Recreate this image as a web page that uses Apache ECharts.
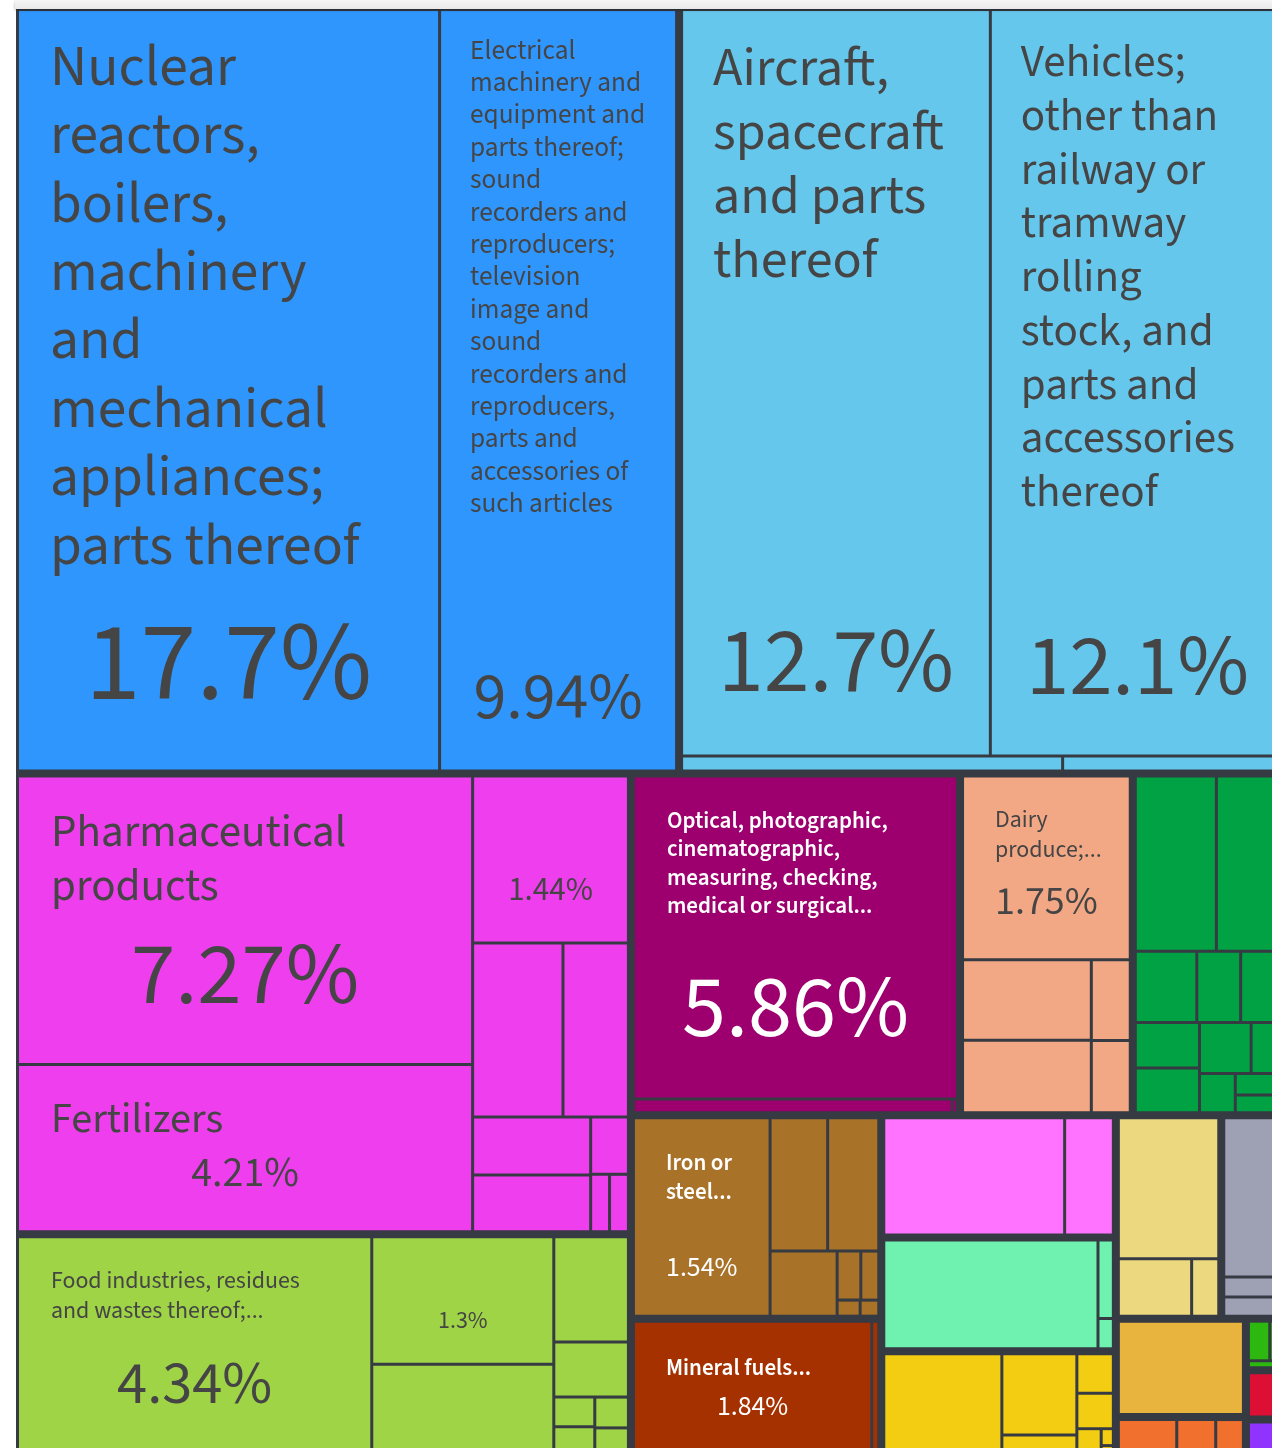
<!DOCTYPE html>
<html>
<head>
<meta charset="utf-8">
<script src="https://cdn.jsdelivr.net/npm/echarts/dist/echarts.min.js"></script>
<style>
html, body { margin: 0; padding: 0; background: #ffffff; width: 1272px; height: 1448px; overflow: hidden; }
#hdr { position: absolute; left: 15px; top: 0; width: 1300px; height: 9px; background: linear-gradient(#f5f5f5, #e9e9e9); box-shadow: 0 1px 3px rgba(0,0,0,0.35); z-index: 5; border-top-left-radius: 3px; }
#chart { position: absolute; left: 16px; top: 8px; width: 1300px; height: 1460px; background: #363b43; }
</style>
</head>
<body>
<div id="hdr"></div>
<div id="chart"></div>
<script>
// ---------------- DATA (shares of total, %) ----------------
const sectionNames = ['Machinery', 'Transportation', 'Chemical Products', 'Foodstuffs', 'Instruments',
  'Animal Products', 'Vegetable Products', 'Metals', 'Mineral Products', 'Plastics and Rubbers',
  'Paper Goods', 'Textiles', 'Stone and Glass', 'Precious Metals', 'Wood Products', 'Miscellaneous',
  'Animal and Vegetable Bi-Products', 'Weapons', 'Arts and Antiques'];

const machineryProducts = ['Nuclear reactors, boilers, machinery and mechanical appliances; parts thereof',
  'Electrical machinery and equipment and parts thereof; sound recorders and reproducers; television image and sound recorders and reproducers, parts and accessories of such articles'];
const machineryShares = [17.7, 9.94];

const transportProducts = ['Aircraft, spacecraft and parts thereof',
  'Vehicles; other than railway or tramway rolling stock, and parts and accessories thereof',
  'Ships, boats and floating structures', 'Railway or tramway locomotives and rolling stock'];
const transportShares = [12.7, 12.1, 0.316, 0.184];

const chemicalProducts = ['Pharmaceutical products', 'Fertilizers', 'Essential oils; perfumery and cosmetics',
  'Miscellaneous chemical products', 'Organic chemicals', 'Soap and washing preparations',
  'Inorganic chemicals', 'Dyes, pigments, paints and varnishes', 'Glues and enzymes', 'Photographic goods'];
const chemicalShares = [7.27, 4.21, 1.44, 0.87, 0.63, 0.38, 0.37, 0.12, 0.06, 0.06];

const foodProducts = ['Food industries, residues and wastes thereof;...', 'Beverages, spirits and vinegar',
  'Miscellaneous edible preparations', 'Preparations of cereals, flour, starch or milk',
  'Cocoa and cocoa preparations', 'Sugars and sugar confectionery', 'Preparations of vegetables and fruit',
  'Preparations of meat and fish', 'Tobacco'];
const foodShares = [4.34, 1.3, 0.93, 0.44, 0.23, 0.068, 0.066, 0.058, 0.052];

const instrumentProducts = ['Optical, photographic, cinematographic, measuring, checking, medical or surgical...',
  'Clocks and watches', 'Musical instruments'];
const instrumentShares = [5.86, 0.245, 0.004];

const animalProducts = ['Dairy produce;...', 'Meat and edible meat offal', 'Fish and crustaceans',
  'Live animals', 'Animal originated products'];
const animalShares = [1.75, 0.588, 0.53, 0.178, 0.16];

const vegetableProducts = ['Cereals', 'Oil seeds and oleaginous fruits', 'Live trees and other plants',
  'Edible fruit and nuts', 'Edible vegetables', 'Products of the milling industry',
  'Coffee, tea, mate and spices', 'Lac; gums, resins', 'Seeds for sowing', 'Malt', 'Potatoes', 'Vegetable plaiting materials'];
const vegetableShares = [0.81, 0.68, 0.25, 0.178, 0.178, 0.166, 0.164, 0.15, 0.097, 0.08, 0.06, 0.05];

const metalProducts = ['Iron or steel...', 'Aluminium and articles thereof', 'Iron and steel',
  'Copper and articles thereof', 'Tools and cutlery of base metal', 'Miscellaneous articles of base metal',
  'Nickel and articles thereof', 'Zinc and articles thereof'];
const metalShares = [1.54, 0.436, 0.387, 0.248, 0.066, 0.05, 0.021, 0.017];

const mineralProducts = ['Mineral fuels...', 'Salt; sulphur; earths and stone; lime and cement'];
const mineralShares = [1.84, 0.054];

const plasticProducts = ['Plastics and articles thereof', 'Rubber and articles thereof'];
const plasticShares = [1.226, 0.33];

const paperProducts = ['Paper and paperboard', 'Printed books, newspapers, pictures', 'Pulp of wood'];
const paperShares = [1.353, 0.07, 0.027];

const textileProducts = ['Apparel, knitted or crocheted', 'Apparel, not knitted or crocheted',
  'Other made up textile articles', 'Wool and animal hair', 'Cotton', 'Man-made filaments',
  'Carpets and textile floor coverings', 'Silk'];
const textileShares = [0.699, 0.355, 0.089, 0.084, 0.075, 0.038, 0.012, 0.007];

const stoneProducts = ['Glass and glassware', 'Ceramic products', 'Articles of stone, plaster, cement'];
const stoneShares = [0.827, 0.246, 0.091];

const preciousProducts = ['Precious stones and metals', 'Jewellery', 'Coin'];
const preciousShares = [0.583, 0.073, 0.07];

const woodProducts = ['Wood and articles of wood'];
const woodShares = [0.695];

const miscProducts = ['Furniture; bedding, mattresses', 'Toys, games and sports requisites', 'Miscellaneous manufactured articles'];
const miscShares = [0.135, 0.09, 0.064];

const bioProducts = ['Animal or vegetable fats and oils', 'Olive oil', 'Margarine'];
const bioShares = [0.058, 0.04, 0.017];

const weaponProducts = ['Arms and ammunition'];
const weaponShares = [0.11];

const artProducts = ['Works of art, collectors\' pieces and antiques'];
const artShares = [0.086];

// ---------------- STYLE ----------------
const sectionColors = ['#2f96fe', '#66c7ec', '#ef3eee', '#a0d447', '#9d006e', '#f2a885', '#00a244',
  '#a87229', '#a53100', '#ff73ff', '#6ff2b0', '#f3cd12', '#ecd97f', '#9ea0b4', '#e9b43d', '#f2702d',
  '#2db80f', '#de0f34', '#9033ff'];
const BG = '#363b43';
const FONT = '"Source Sans Pro", "Source Sans 3", Lato, sans-serif';
const DARK = '#454545';

// label layout per labelled product: name lines, name size/line height, paddings, gap, share size
const labelStyle = {
  'Nuclear reactors, boilers, machinery and mechanical appliances; parts thereof':
    { lines: ['Nuclear', 'reactors,', 'boilers,', 'machinery', 'and', 'mechanical', 'appliances;', 'parts thereof'], ns: 57.5, lh: 68.4, pt: 27, pl: 31, gap: 22.5, ps: 112 },
  'Electrical machinery and equipment and parts thereof; sound recorders and reproducers; television image and sound recorders and reproducers, parts and accessories of such articles':
    { lines: ['Electrical', 'machinery and', 'equipment and', 'parts thereof;', 'sound', 'recorders and', 'reproducers;', 'television', 'image and', 'sound', 'recorders and', 'reproducers,', 'parts and', 'accessories of', 'such articles'], ns: 27.3, lh: 32.4, pt: 25.5, pl: 29, gap: 142, ps: 66 },
  'Aircraft, spacecraft and parts thereof':
    { lines: ['Aircraft,', 'spacecraft', 'and parts', 'thereof'], ns: 54, lh: 64, pt: 30, pl: 30, gap: 318.5, ps: 92 },
  'Vehicles; other than railway or tramway rolling stock, and parts and accessories thereof':
    { lines: ['Vehicles;', 'other than', 'railway or', 'tramway', 'rolling', 'stock, and', 'parts and', 'accessories', 'thereof'], ns: 45, lh: 53.75, pt: 28.5, pl: 29, gap: 99.5, ps: 87 },
  'Pharmaceutical products':
    { lines: ['Pharmaceutical', 'products'], ns: 45, lh: 54, pt: 31.5, pl: 32, gap: 13, ps: 89 },
  'Fertilizers':
    { lines: ['Fertilizers'], ns: 42.2, lh: 48, pt: 33, pl: 32, gap: 4.5, ps: 42 },
  'Essential oils; perfumery and cosmetics':
    { lines: [], pt: 95, pl: 10, ps: 33 },
  'Optical, photographic, cinematographic, measuring, checking, medical or surgical...':
    { lines: ['Optical, photographic,', 'cinematographic,', 'measuring, checking,', 'medical or surgical...'], ns: 23, lh: 28.3, pt: 31.3, pl: 32, gap: 41.5, ps: 88.5, light: true },
  'Dairy produce;...':
    { lines: ['Dairy', 'produce;...'], ns: 23.9, lh: 30, pt: 29.5, pl: 31, gap: 13.9, ps: 40 },
  'Food industries, residues and wastes thereof;...':
    { lines: ['Food industries, residues', 'and wastes thereof;...'], ns: 23.9, lh: 30, pt: 29.5, pl: 32, gap: 26, ps: 60.5 },
  'Beverages, spirits and vinegar':
    { lines: [], pt: 70.5, pl: 10, ps: 24 },
  'Iron or steel...':
    { lines: ['Iron or', 'steel...'], ns: 23, lh: 29, pt: 31, pl: 31, gap: 45.5, ps: 27.8, light: true },
  'Mineral fuels...':
    { lines: ['Mineral fuels...'], ns: 23, lh: 29, pt: 32.4, pl: 31, gap: 8, ps: 27.8, light: true }
};

function buildLabel(name, share) {
  const s = labelStyle[name];
  if (!s) return { show: false };
  const col = s.light ? '#ffffff' : DARK;
  const weight = s.light ? 600 : 'normal';
  const pLH = Math.round(s.ps * 1.2);
  const parts = s.lines.map(function (l) { return '{n|' + l + '}'; });
  if (parts.length) parts.push('{g| }');
  parts.push('{p|' + share + '%}');
  return {
    show: true,
    position: 'insideTopLeft',
    distance: 0,
    padding: [s.pt, s.pl, 0, s.pl],
    overflow: 'none',
    formatter: parts.join('\n'),
    rich: {
      n: { fontFamily: FONT, fontSize: s.ns || 12, lineHeight: s.lh || 14, color: col, fontWeight: weight },
      g: { fontSize: 1, lineHeight: s.gap || 1 },
      p: { fontFamily: FONT, fontSize: s.ps, lineHeight: pLH, color: col, align: 'center' }
    }
  };
}

const sectionProducts = [machineryProducts, transportProducts, chemicalProducts, foodProducts, instrumentProducts,
  animalProducts, vegetableProducts, metalProducts, mineralProducts, plasticProducts, paperProducts,
  textileProducts, stoneProducts, preciousProducts, woodProducts, miscProducts, bioProducts, weaponProducts, artProducts];
const sectionShares = [machineryShares, transportShares, chemicalShares, foodShares, instrumentShares,
  animalShares, vegetableShares, metalShares, mineralShares, plasticShares, paperShares,
  textileShares, stoneShares, preciousShares, woodShares, miscShares, bioShares, weaponShares, artShares];

const treeData = sectionNames.map(function (sec, i) {
  return {
    name: sec,
    itemStyle: { color: sectionColors[i] },
    children: sectionProducts[i].map(function (p, j) {
      return {
        name: p,
        value: sectionShares[i][j],
        itemStyle: { color: sectionColors[i] },
        label: buildLabel(p, sectionShares[i][j])
      };
    })
  };
});

const chart = echarts.init(document.getElementById('chart'), null, { renderer: 'canvas' });
chart.setOption({
  animation: false,
  backgroundColor: BG,
  tooltip: { show: false },
  series: [{
    type: 'treemap',
    left: 3, top: 3, width: 1264, height: 1443,
    roam: false,
    nodeClick: false,
    breadcrumb: { show: false },
    sort: 'desc',
    label: { show: false },
    upperLabel: { show: false },
    itemStyle: { borderColor: BG, borderWidth: 0 },
    levels: [
      { itemStyle: { borderWidth: 0, gapWidth: 8, borderColor: BG } },
      { itemStyle: { borderWidth: 0, gapWidth: 3, borderColor: BG } },
      { itemStyle: { borderWidth: 0, gapWidth: 0, borderColor: BG } }
    ],
    data: treeData
  }]
});
</script>
</body>
</html>
